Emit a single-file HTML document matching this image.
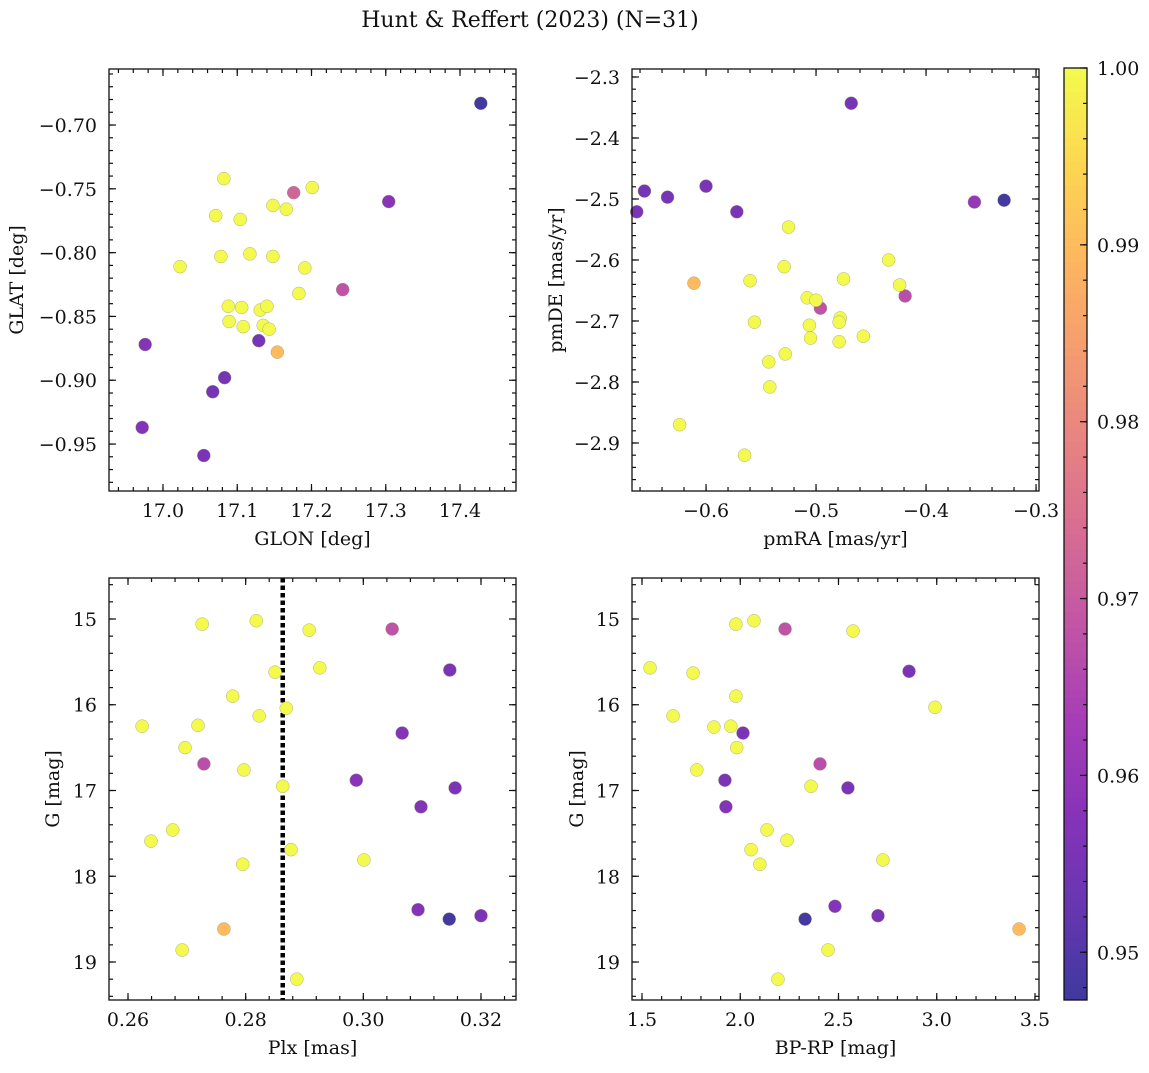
<!DOCTYPE html>
<html><head><meta charset="utf-8"><style>
body{margin:0;background:#fff;}
svg text{font-family:"DejaVu Serif","Liberation Serif",serif;fill:#111;}
</style></head><body>
<svg id="fig" width="1149" height="1068" xmlns="http://www.w3.org/2000/svg">
<text x="530" y="27" font-size="22" text-anchor="middle">Hunt &amp; Reffert (2023) (N=31)</text>
</svg>
<script>
// ---- data ----
const glonVals=[17.428,17.304,17.242,17.176,16.976,16.972,17.055,17.067,17.083,17.129,17.154,17.082,17.071,17.104,17.023,17.078,17.117,17.148,17.166,17.201,17.148,17.191,17.183,17.088,17.106,17.089,17.108,17.131,17.140,17.135,17.143];
const glatVals=[-0.683,-0.760,-0.829,-0.753,-0.872,-0.937,-0.959,-0.909,-0.898,-0.869,-0.878,-0.742,-0.771,-0.774,-0.811,-0.803,-0.801,-0.763,-0.766,-0.749,-0.803,-0.812,-0.832,-0.842,-0.843,-0.854,-0.858,-0.845,-0.842,-0.857,-0.860];
const probA=[0.948,0.958,0.968,0.972,0.957,0.957,0.956,0.955,0.955,0.955,0.99,1,1,1,1,1,1,1,1,1,1,1,1,1,1,1,1,1,1,1,1];
const pmraVals=[-0.468,-0.329,-0.356,-0.663,-0.656,-0.635,-0.600,-0.572,-0.419,-0.496,-0.611,-0.525,-0.529,-0.560,-0.434,-0.424,-0.475,-0.508,-0.500,-0.556,-0.506,-0.478,-0.479,-0.505,-0.457,-0.479,-0.528,-0.543,-0.542,-0.624,-0.565];
const pmdeVals=[-2.343,-2.502,-2.505,-2.521,-2.487,-2.497,-2.479,-2.521,-2.659,-2.679,-2.638,-2.546,-2.611,-2.634,-2.600,-2.641,-2.631,-2.662,-2.666,-2.702,-2.707,-2.695,-2.702,-2.728,-2.725,-2.734,-2.754,-2.767,-2.808,-2.870,-2.920];
const probB=[0.955,0.948,0.96,0.956,0.955,0.955,0.956,0.956,0.967,0.968,0.99,1,1,1,1,1,1,1,1,1,1,1,1,1,1,1,1,1,1,1,1];
const plxVals=[0.3049,0.3147,0.3066,0.2988,0.3156,0.3098,0.2729,0.2763,0.3093,0.3146,0.3200,0.2726,0.2818,0.2908,0.2926,0.2850,0.2778,0.2869,0.2823,0.2624,0.2719,0.2697,0.2797,0.2863,0.2676,0.2639,0.2877,0.3001,0.2795,0.2692,0.2887];
const gmagC=[15.117,15.595,16.33,16.88,16.97,17.19,16.69,18.615,18.39,18.50,18.46,15.06,15.02,15.13,15.57,15.62,15.90,16.04,16.13,16.25,16.24,16.50,16.76,16.95,17.46,17.59,17.69,17.81,17.86,18.86,19.20];
const probC=[0.968,0.956,0.957,0.958,0.956,0.957,0.967,0.99,0.957,0.948,0.956,1,1,1,1,1,1,1,1,1,1,1,1,1,1,1,1,1,1,1,1];
const plxMean=[0.2863];
const bprpVals=[2.228,2.859,2.014,1.922,2.406,1.927,2.548,3.419,2.330,2.482,2.701,1.978,2.070,2.574,1.541,1.760,1.978,2.991,1.658,1.866,1.952,1.982,1.779,2.360,2.136,2.238,2.055,2.100,2.726,2.447,2.192];
const gmagD=[15.117,15.61,16.33,16.88,16.69,17.19,16.97,18.615,18.50,18.35,18.46,15.06,15.02,15.14,15.57,15.63,15.90,16.03,16.13,16.26,16.25,16.50,16.76,16.95,17.46,17.58,17.69,17.86,17.81,18.86,19.20];
const probD=[0.968,0.956,0.956,0.956,0.967,0.957,0.956,0.99,0.948,0.957,0.956,1,1,1,1,1,1,1,1,1,1,1,1,1,1,1,1,1,1,1,1];
const cbTicks=[0.95,0.96,0.97,0.98,0.99,1.00];

const NS="http://www.w3.org/2000/svg";
const svg=document.getElementById('fig');
function el(t,a,p){const e=document.createElementNS(NS,t);for(const k in a)e.setAttribute(k,a[k]);(p||svg).appendChild(e);return e;}
const stops=[[13,8,135],[65,4,157],[106,0,168],[143,13,164],[177,42,144],[204,71,120],[225,100,98],[242,132,75],[252,166,54],[252,206,37],[240,249,33]];
const PMIN=0.9473,PMAX=1.0;
function cmap(p){let t=Math.max(0,Math.min(1,(p-PMIN)/(PMAX-PMIN)))*10;let i=Math.min(9,Math.floor(t)),f=t-i;
 const c=stops[i].map((v,k)=>v+(stops[i+1][k]-v)*f).map(v=>Math.round(v*0.8+255*0.2));return `rgb(${c})`;}
function fmt(v,d){return v.toFixed(d).replace('-','\u2212');}
const FS=19;

function panel(o){
 const g=el('g',{});
 
 
 const {L,R,T,B}=o;
 const sx=v=>L+(v-o.x0)/(o.x1-o.x0)*(R-L);
 const sy=o.yInv? v=>T+(v-o.y0)/(o.y1-o.y0)*(B-T) : v=>B-(v-o.y0)/(o.y1-o.y0)*(B-T);
 const eps=1e-9;
 function ticks(lo,hi,step){const a=[];for(let v=Math.ceil(lo/step-eps)*step;v<=hi+eps;v+=step)a.push(v);return a;}
 const tg=el('g',{stroke:'#111','stroke-width':1.2},g);
 ticks(o.x0,o.x1,o.xmin).forEach(v=>{const x=sx(v);el('line',{x1:x,x2:x,y1:B,y2:B-4},tg);el('line',{x1:x,x2:x,y1:T,y2:T+4},tg);});
 ticks(o.x0,o.x1,o.xmaj).forEach(v=>{const x=sx(v);el('line',{x1:x,x2:x,y1:B,y2:B-7},tg);el('line',{x1:x,x2:x,y1:T,y2:T+7},tg);
  const t=el('text',{x:x,y:B+26,'font-size':FS,'text-anchor':'middle'},g);t.textContent=fmt(v,o.xd);
  });
 const ylo=Math.min(o.y0,o.y1),yhi=Math.max(o.y0,o.y1);
 ticks(ylo,yhi,o.ymin).forEach(v=>{const y=sy(v);el('line',{x1:L,x2:L+4,y1:y,y2:y},tg);el('line',{x1:R,x2:R-4,y1:y,y2:y},tg);});
 ticks(ylo,yhi,o.ymaj).forEach(v=>{const y=sy(v);el('line',{x1:L,x2:L+7,y1:y,y2:y},tg);el('line',{x1:R,x2:R-7,y1:y,y2:y},tg);
  const t=el('text',{x:L-12,y:y+7,'font-size':FS,'text-anchor':'end'},g);t.textContent=fmt(v,o.yd);
  });
 if(o.vline){const x=sx(o.vline[0]);const ln=el('line',{x1:x,x2:x,y1:T,y2:B,stroke:'#000','stroke-width':4.5,'stroke-dasharray':'4.5 3'},g);
  }
 o.xs.forEach((xv,i)=>{const c=el('circle',{cx:sx(xv),cy:sy(o.ys[i]),r:6.5,fill:cmap(o.ps[i]),stroke:'#9a9a7a','stroke-width':0.4},g);
  });
 const f=el('rect',{x:L,y:T,width:R-L,height:B-T,fill:'none',stroke:'#111','stroke-width':1.3},g);
 
 const xl=el('text',{x:(L+R)/2,y:B+54,'font-size':FS,'text-anchor':'middle'},g);xl.textContent=o.xlab;
 
 const yx=o.ylx,yy=(T+B)/2;
 const yl=el('text',{x:yx,y:yy,'font-size':FS,'text-anchor':'middle',transform:`rotate(-90 ${yx} ${yy})`},g);yl.textContent=o.ylab;
 
}
panel({name:'glon-glat-panel',L:109,R:516,T:69,B:491,x0:16.9273,x1:17.4754,y0:-0.9868,y1:-0.6561,xmaj:0.1,xmin:0.02,ymaj:0.05,ymin:0.01,xd:1,yd:2,xs:glonVals,ys:glatVals,ps:probA,xlab:'GLON [deg]',ylab:'GLAT [deg]',ylx:23});
panel({name:'pm-panel',L:632,R:1039,T:69,B:491,x0:-0.6673,x1:-0.2973,y0:-2.9787,y1:-2.2869,xmaj:0.1,xmin:0.02,ymaj:0.1,ymin:0.02,xd:1,yd:1,xs:pmraVals,ys:pmdeVals,ps:probB,xlab:'pmRA [mas/yr]',ylab:'pmDE [mas/yr]',ylx:562});
panel({name:'plx-g-panel',L:109,R:516,T:578,B:1000,x0:0.25677,x1:0.32595,y0:14.522,y1:19.443,yInv:true,xmaj:0.02,xmin:0.004,ymaj:1,ymin:0.2,xd:2,yd:0,xs:plxVals,ys:gmagC,ps:probC,vline:plxMean,xlab:'Plx [mas]',ylab:'G [mag]',ylx:59});
panel({name:'color-mag-panel',L:632,R:1039,T:578,B:1000,x0:1.4491,x1:3.5204,y0:14.522,y1:19.443,yInv:true,xmaj:0.5,xmin:0.1,ymaj:1,ymin:0.2,xd:1,yd:0,xs:bprpVals,ys:gmagD,ps:probD,xlab:'BP-RP [mag]',ylab:'G [mag]',ylx:583});

// colorbar
const cb=el('g',{});


const CL=1064,CR=1087,CT=68,CB=1000;
const cy=v=>CB-(v-PMIN)/(PMAX-PMIN)*(CB-CT);
for(let i=0;i<120;i++){const a=PMIN+(PMAX-PMIN)*i/120,b=PMIN+(PMAX-PMIN)*(i+1)/120;
 el('rect',{x:CL,y:cy(b)-0.5,width:CR-CL,height:cy(a)-cy(b)+1,fill:cmap((a+b)/2)},cb);}
el('rect',{x:CL,y:CT,width:CR-CL,height:CB-CT,fill:'none',stroke:'#111','stroke-width':1.3},cb);
for(let v=0.948;v<=1.0001;v+=0.002){const y=cy(v);el('line',{x1:CR,x2:CR-4,y1:y,y2:y,stroke:'#111','stroke-width':1.2},cb);}
cbTicks.forEach(v=>{const y=cy(v);el('line',{x1:CR,x2:CR-7,y1:y,y2:y,stroke:'#111','stroke-width':1.2},cb);
 const t=el('text',{x:CR+10,y:y+7,'font-size':FS},cb);t.textContent=v.toFixed(2);
 });
</script>
</body></html>
